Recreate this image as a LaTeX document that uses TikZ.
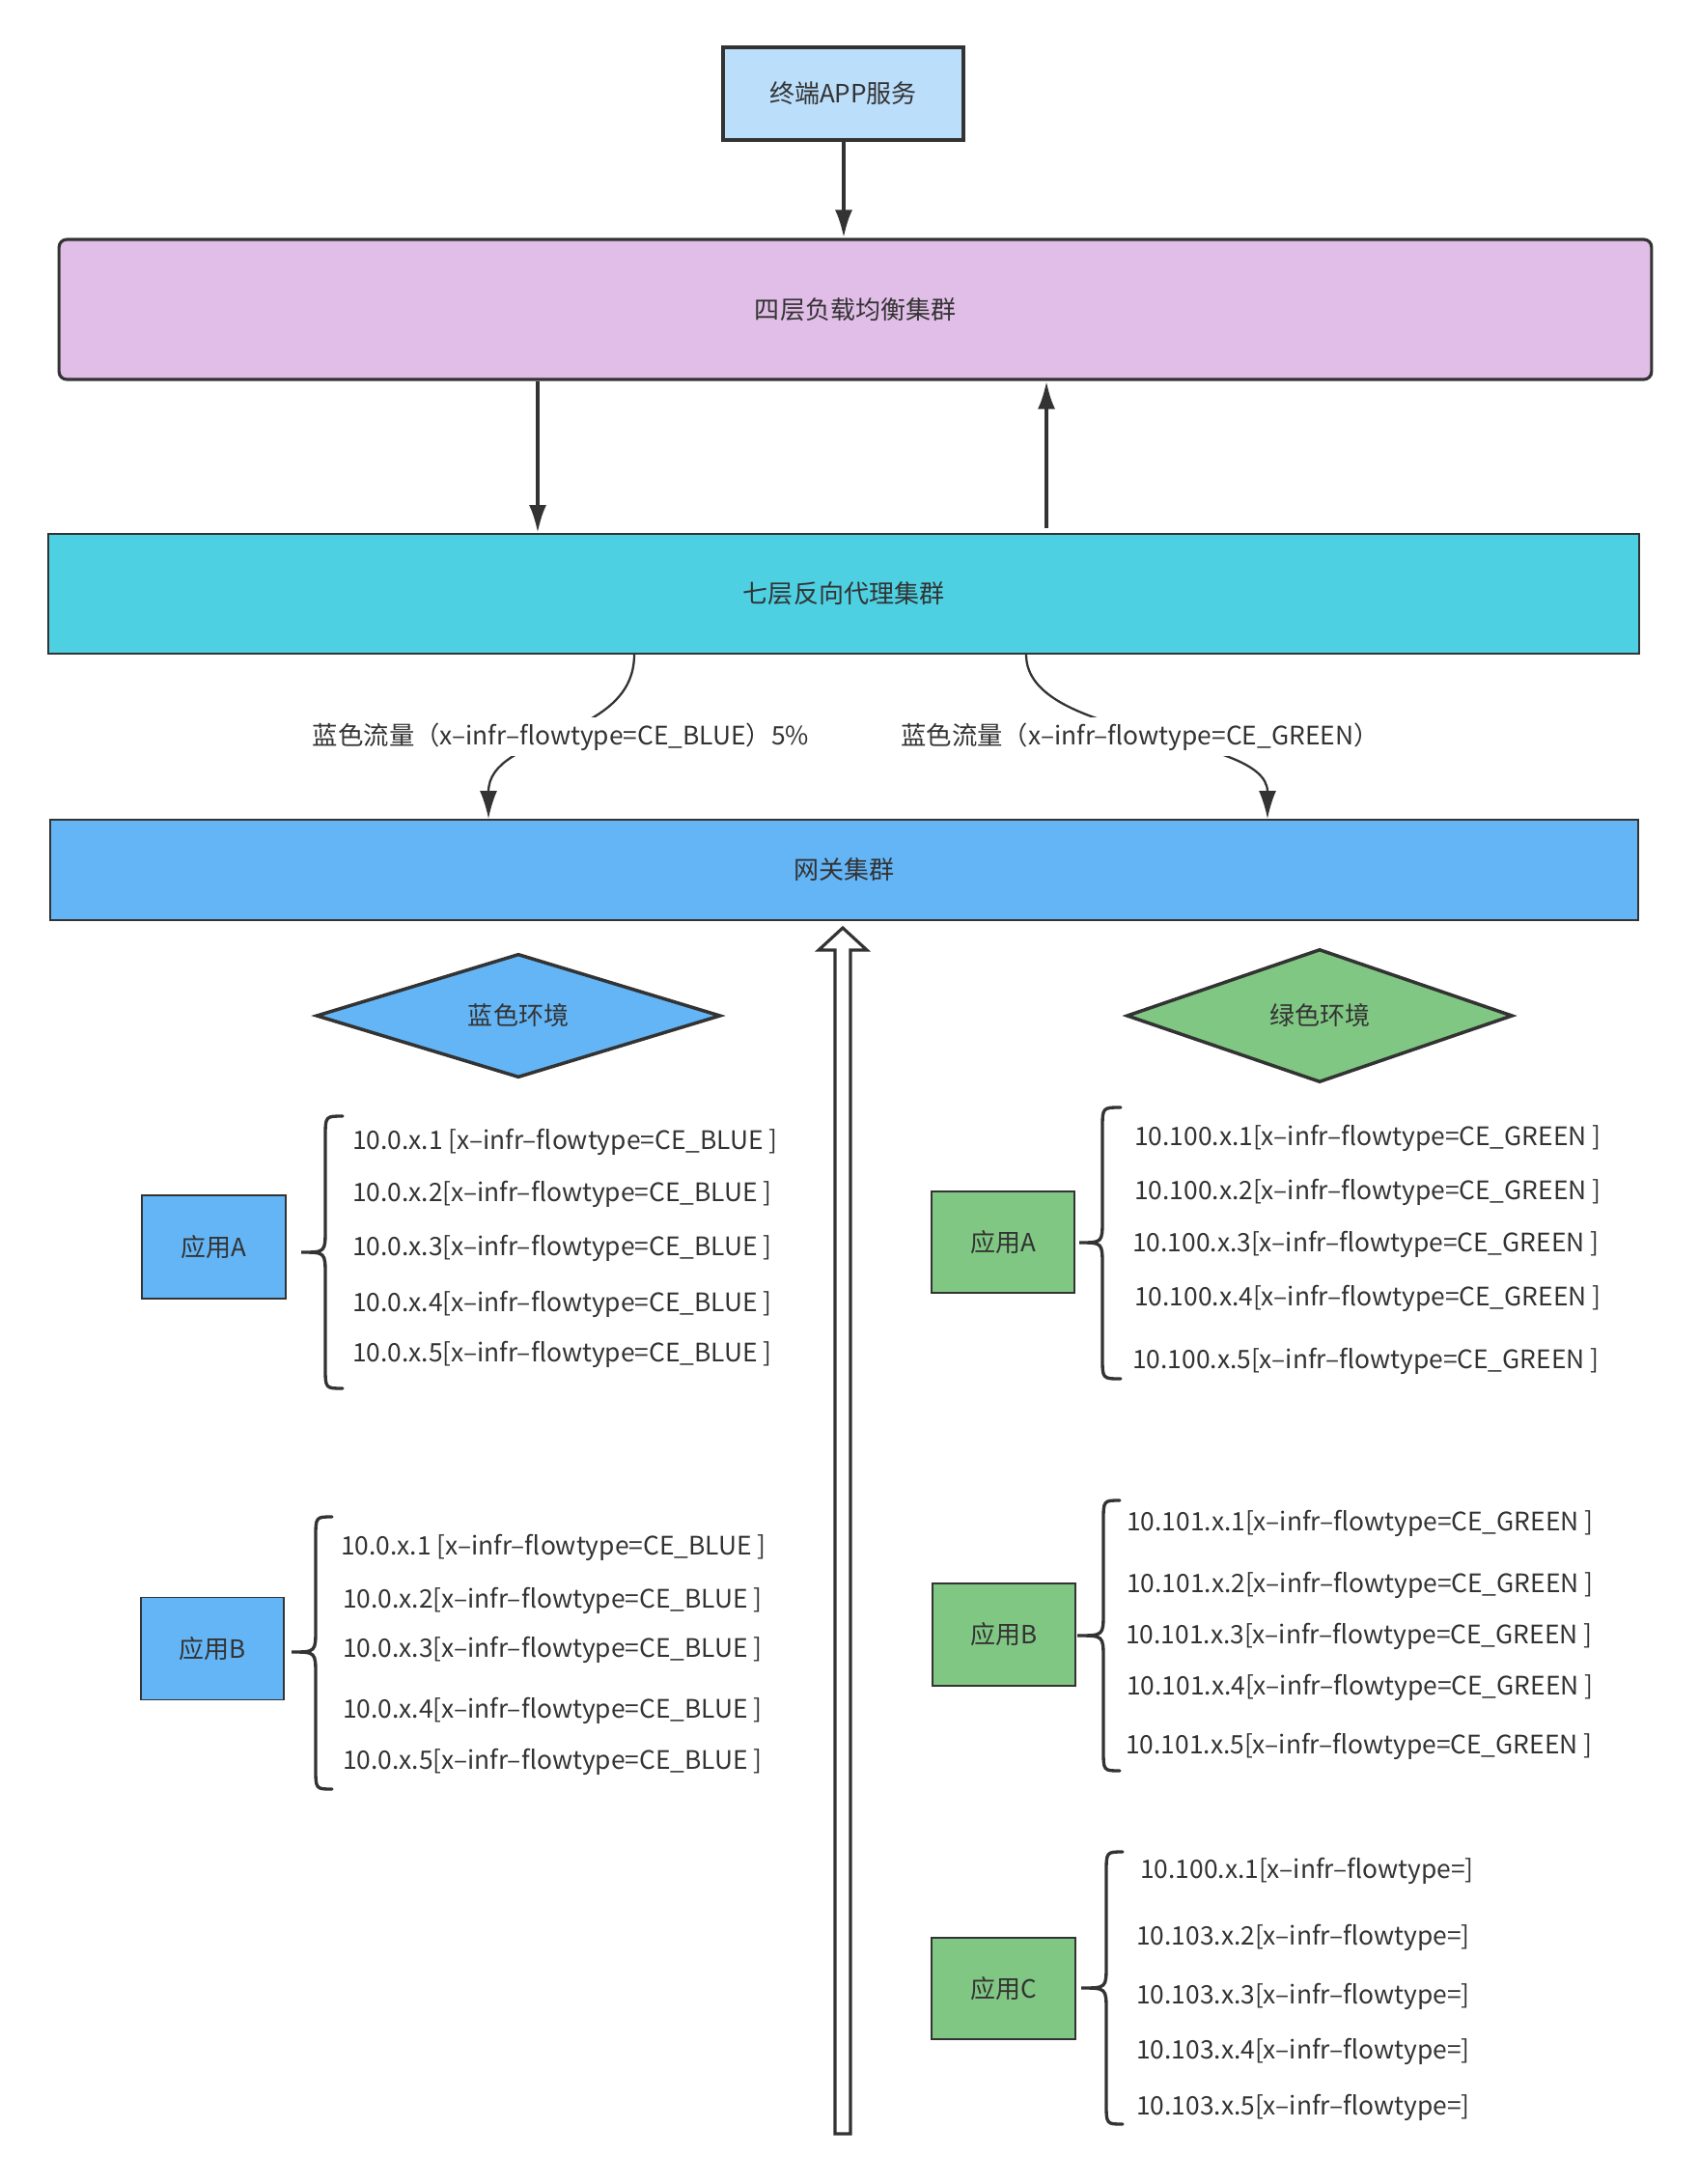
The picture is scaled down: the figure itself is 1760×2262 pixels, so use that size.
\documentclass[tikz,border=0pt]{standalone}
\usepackage{fontspec}
\setmainfont{Noto Sans CJK SC}
\usetikzlibrary{arrows.meta,shapes.geometric}
\definecolor{ink}{HTML}{333333}
\definecolor{appfill}{HTML}{BBDEFB}
\definecolor{lbfill}{HTML}{E1BEE7}
\definecolor{proxyfill}{HTML}{4DD0E1}
\definecolor{gwfill}{HTML}{64B5F6}
\definecolor{bluefill}{HTML}{64B5F6}
\definecolor{greenfill}{HTML}{81C784}
\newcommand{\mybrace}[6]{%
  \draw[bracestyle] (#3,#4) .. controls (#2,#4) .. (#2,#4+22) -- (#2,#5-24) .. controls (#2,#5) .. (#1,#5) .. controls (#2,#5) .. (#2,#5+24) -- (#2,#6-22) .. controls (#2,#6) .. (#3,#6);}
\newcommand{\itm}[4]{\node[itemtxt] (#1) at (#2,#3) {#4};}
\begin{document}
\begin{tikzpicture}[x=0.02cm,y=-0.02cm,
  font=\fontsize{14.8}{17}\selectfont,
  every node/.style={text=ink},
  box/.style={draw=ink, rectangle, inner sep=0pt, align=center},
  thinbox/.style={box, line width=1.1pt},
  thickbox/.style={box, line width=1.8pt},
  env/.style={diamond, draw=ink, line width=2pt, inner sep=0pt},
  arrowline/.style={draw=ink, line width=2.2pt, -{Latex[length=0.58cm,width=0.36cm]}},
  curveline/.style={draw=ink, line width=1.3pt, -{Latex[length=0.58cm,width=0.36cm]}},
  bracestyle/.style={draw=ink, line width=1.9pt, line cap=round},
  itemtxt/.style={anchor=west, inner sep=0pt, font=\fontsize{15}{17}\selectfont},
  lbl/.style={fill=white, inner sep=3pt, font=\fontsize{15}{17}\selectfont}
]
\useasboundingbox (0,0) rectangle (1760,2262);

% main boxes
\node[thickbox, fill=appfill, minimum width=4.98cm, minimum height=1.92cm] (app) at (873.5,97) {终端APP服务};
\node[thickbox, fill=lbfill, rounded corners=0.16cm, minimum width=33cm, minimum height=2.9cm] (lb) at (886,320.5) {四层负载均衡集群};
\node[thinbox, fill=proxyfill, minimum width=32.96cm, minimum height=2.48cm] (l7) at (874,615) {七层反向代理集群};
\node[thinbox, fill=gwfill, minimum width=32.9cm, minimum height=2.08cm] (gw) at (874.5,901) {网关集群};

% connector x positions
\coordinate (xa) at (874,0);
\coordinate (xb) at (557,0);
\coordinate (xc) at (1084,0);
\coordinate (xd) at (657,0);
\coordinate (xe) at (506,0);
\coordinate (xf) at (1063,0);
\coordinate (xg) at (1313,0);

\draw[arrowline] (app.south -| xa) -- (lb.north -| xa);
\draw[arrowline] (lb.south -| xb) -- (l7.north -| xb);
\draw[arrowline] ([yshift=0.1cm]l7.north -| xc) -- (lb.south -| xc);

\draw[curveline] (l7.south -| xd) .. controls +(0,90) and +(0,-90) .. (gw.north -| xe);
\draw[curveline] (l7.south -| xf) .. controls +(0,90) and +(0,-90) .. (gw.north -| xg);
\node[lbl] (lblblue) at (581,763) {蓝色流量（x–infr–flowtype=CE\_BLUE）5\%};
\node[lbl] (lblgreen) at (1181,763) {蓝色流量（x–infr–flowtype=CE\_GREEN）};

% hollow upward arrow
\coordinate (hatip) at (873,961);
\coordinate (habot) at (873,2210);
\draw[draw=ink, line width=1.8pt, fill=white, line join=miter]
  (hatip) -- (898,984) -- (881,984) -- (881,2210) -- (865,2210) -- (865,984) -- (848,984) -- cycle;

% environment diamonds
\node[env, fill=bluefill, minimum width=8.38cm, minimum height=2.5cm] (envblue) at (537,1052) {蓝色环境};
\node[env, fill=greenfill, minimum width=8cm, minimum height=2.76cm] (envgreen) at (1367,1052) {绿色环境};

% blue apps
\node[thinbox, fill=bluefill, minimum width=2.98cm, minimum height=2.14cm] (bappa) at (221.5,1291.5) {应用A};
\mybrace{312}{337}{355}{1156}{1297}{1438}
\itm{ba1}{365}{1183}{10.0.x.1 [x–infr–flowtype=CE\_BLUE ]}
\itm{ba2}{365}{1237}{10.0.x.2[x–infr–flowtype=CE\_BLUE ]}
\itm{ba3}{365}{1293}{10.0.x.3[x–infr–flowtype=CE\_BLUE ]}
\itm{ba4}{365}{1351}{10.0.x.4[x–infr–flowtype=CE\_BLUE ]}
\itm{ba5}{365}{1403}{10.0.x.5[x–infr–flowtype=CE\_BLUE ]}

\node[thinbox, fill=bluefill, minimum width=2.96cm, minimum height=2.12cm] (bappb) at (220,1707.5) {应用B};
\mybrace{302}{327}{344}{1571}{1711}{1853}
\itm{bb1}{353}{1603}{10.0.x.1 [x–infr–flowtype=CE\_BLUE ]}
\itm{bb2}{355}{1658}{10.0.x.2[x–infr–flowtype=CE\_BLUE ]}
\itm{bb3}{355}{1709}{10.0.x.3[x–infr–flowtype=CE\_BLUE ]}
\itm{bb4}{355}{1772}{10.0.x.4[x–infr–flowtype=CE\_BLUE ]}
\itm{bb5}{355}{1825}{10.0.x.5[x–infr–flowtype=CE\_BLUE ]}

% green apps
\node[thinbox, fill=greenfill, minimum width=2.96cm, minimum height=2.1cm] (gappa) at (1039,1286.5) {应用A};
\mybrace{1118}{1142}{1161}{1147}{1287}{1428}
\itm{ga1}{1175}{1179}{10.100.x.1[x–infr–flowtype=CE\_GREEN ]}
\itm{ga2}{1175}{1235}{10.100.x.2[x–infr–flowtype=CE\_GREEN ]}
\itm{ga3}{1173}{1289}{10.100.x.3[x–infr–flowtype=CE\_GREEN ]}
\itm{ga4}{1175}{1345}{10.100.x.4[x–infr–flowtype=CE\_GREEN ]}
\itm{ga5}{1173}{1410}{10.100.x.5[x–infr–flowtype=CE\_GREEN ]}

\node[thinbox, fill=greenfill, minimum width=2.96cm, minimum height=2.12cm] (gappb) at (1040,1693) {应用B};
\mybrace{1116}{1143}{1160}{1554}{1694}{1834}
\itm{gb1}{1167}{1578}{10.101.x.1[x–infr–flowtype=CE\_GREEN ]}
\itm{gb2}{1167}{1642}{10.101.x.2[x–infr–flowtype=CE\_GREEN ]}
\itm{gb3}{1166}{1695}{10.101.x.3[x–infr–flowtype=CE\_GREEN ]}
\itm{gb4}{1167}{1748}{10.101.x.4[x–infr–flowtype=CE\_GREEN ]}
\itm{gb5}{1166}{1809}{10.101.x.5[x–infr–flowtype=CE\_GREEN ]}

\node[thinbox, fill=greenfill, minimum width=2.98cm, minimum height=2.1cm] (gappc) at (1039.5,2059.5) {应用C};
\mybrace{1120}{1146}{1163}{1918}{2059}{2200}
\itm{gc1}{1181}{1938}{10.100.x.1[x–infr–flowtype=]}
\itm{gc2}{1177}{2007}{10.103.x.2[x–infr–flowtype=]}
\itm{gc3}{1177}{2068}{10.103.x.3[x–infr–flowtype=]}
\itm{gc4}{1177}{2125}{10.103.x.4[x–infr–flowtype=]}
\itm{gc5}{1177}{2183}{10.103.x.5[x–infr–flowtype=]}
\end{tikzpicture}
\end{document}
